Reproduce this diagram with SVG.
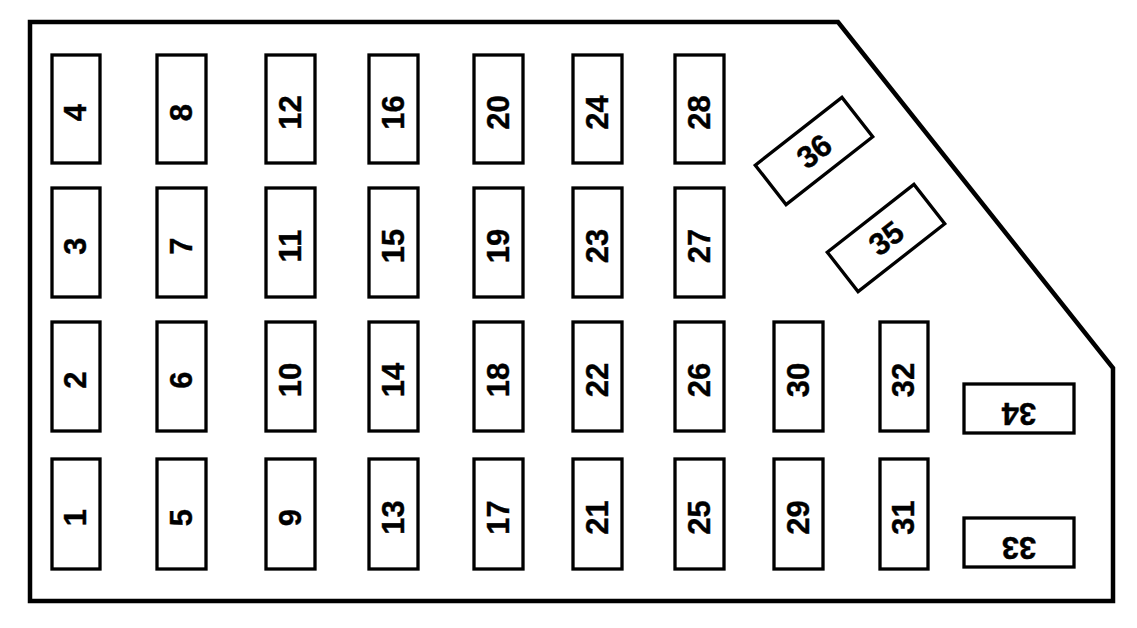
<svg xmlns="http://www.w3.org/2000/svg" width="1137" height="628" viewBox="0 0 1137 628">
<style>
.box{fill:#fff;stroke:#000;stroke-width:4.5;stroke-linejoin:miter}
.f{fill:#fff;stroke:#000;stroke-width:3.3}
.t{font-family:"Liberation Sans",Arial,sans-serif;font-weight:bold;font-size:31px;text-anchor:middle;fill:#000;stroke:#000;stroke-width:0.4}
</style>
<rect width="1137" height="628" fill="#fff"/>
<g id="panel"><path class="box" d="M30,22 H838 L1113,368 V601 H30 Z"/></g>
<g id="fuses">
<g id="f4"><rect class="f" x="52" y="55" width="48" height="108"/><text class="t" transform="translate(76,109) rotate(-90)" x="-3.5" y="10">4</text></g>
<g id="f3"><rect class="f" x="52" y="188" width="48" height="109"/><text class="t" transform="translate(76,242.5) rotate(-90)" x="-3.5" y="10">3</text></g>
<g id="f2"><rect class="f" x="52" y="322" width="48" height="109"/><text class="t" transform="translate(76,376.5) rotate(-90)" x="-3.5" y="10">2</text></g>
<g id="f1"><rect class="f" x="52" y="459" width="48" height="110"/><text class="t" transform="translate(76,514) rotate(-90)" x="-3.5" y="10">1</text></g>
<g id="f8"><rect class="f" x="157" y="55" width="49" height="108"/><text class="t" transform="translate(181.5,109) rotate(-90)" x="-3.5" y="10">8</text></g>
<g id="f7"><rect class="f" x="157" y="188" width="49" height="109"/><text class="t" transform="translate(181.5,242.5) rotate(-90)" x="-3.5" y="10">7</text></g>
<g id="f6"><rect class="f" x="157" y="322" width="49" height="109"/><text class="t" transform="translate(181.5,376.5) rotate(-90)" x="-3.5" y="10">6</text></g>
<g id="f5"><rect class="f" x="157" y="459" width="49" height="110"/><text class="t" transform="translate(181.5,514) rotate(-90)" x="-3.5" y="10">5</text></g>
<g id="f12"><rect class="f" x="266" y="55" width="49" height="108"/><text class="t" transform="translate(290.5,109) rotate(-90)" x="-3.5" y="10">12</text></g>
<g id="f11"><rect class="f" x="266" y="188" width="49" height="109"/><text class="t" transform="translate(290.5,242.5) rotate(-90)" x="-3.5" y="10">11</text></g>
<g id="f10"><rect class="f" x="266" y="322" width="49" height="109"/><text class="t" transform="translate(290.5,376.5) rotate(-90)" x="-3.5" y="10">10</text></g>
<g id="f9"><rect class="f" x="266" y="459" width="49" height="110"/><text class="t" transform="translate(290.5,514) rotate(-90)" x="-3.5" y="10">9</text></g>
<g id="f16"><rect class="f" x="369" y="55" width="49" height="108"/><text class="t" transform="translate(393.5,109) rotate(-90)" x="-3.5" y="10">16</text></g>
<g id="f15"><rect class="f" x="369" y="188" width="49" height="109"/><text class="t" transform="translate(393.5,242.5) rotate(-90)" x="-3.5" y="10">15</text></g>
<g id="f14"><rect class="f" x="369" y="322" width="49" height="109"/><text class="t" transform="translate(393.5,376.5) rotate(-90)" x="-3.5" y="10">14</text></g>
<g id="f13"><rect class="f" x="369" y="459" width="49" height="110"/><text class="t" transform="translate(393.5,514) rotate(-90)" x="-3.5" y="10">13</text></g>
<g id="f20"><rect class="f" x="474" y="55" width="49" height="108"/><text class="t" transform="translate(498.5,109) rotate(-90)" x="-3.5" y="10">20</text></g>
<g id="f19"><rect class="f" x="474" y="188" width="49" height="109"/><text class="t" transform="translate(498.5,242.5) rotate(-90)" x="-3.5" y="10">19</text></g>
<g id="f18"><rect class="f" x="474" y="322" width="49" height="109"/><text class="t" transform="translate(498.5,376.5) rotate(-90)" x="-3.5" y="10">18</text></g>
<g id="f17"><rect class="f" x="474" y="459" width="49" height="110"/><text class="t" transform="translate(498.5,514) rotate(-90)" x="-3.5" y="10">17</text></g>
<g id="f24"><rect class="f" x="573" y="55" width="49" height="108"/><text class="t" transform="translate(597.5,109) rotate(-90)" x="-3.5" y="10">24</text></g>
<g id="f23"><rect class="f" x="573" y="188" width="49" height="109"/><text class="t" transform="translate(597.5,242.5) rotate(-90)" x="-3.5" y="10">23</text></g>
<g id="f22"><rect class="f" x="573" y="322" width="49" height="109"/><text class="t" transform="translate(597.5,376.5) rotate(-90)" x="-3.5" y="10">22</text></g>
<g id="f21"><rect class="f" x="573" y="459" width="49" height="110"/><text class="t" transform="translate(597.5,514) rotate(-90)" x="-3.5" y="10">21</text></g>
<g id="f28"><rect class="f" x="675" y="55" width="49" height="108"/><text class="t" transform="translate(699.5,109) rotate(-90)" x="-3.5" y="10">28</text></g>
<g id="f27"><rect class="f" x="675" y="188" width="49" height="109"/><text class="t" transform="translate(699.5,242.5) rotate(-90)" x="-3.5" y="10">27</text></g>
<g id="f26"><rect class="f" x="675" y="322" width="49" height="109"/><text class="t" transform="translate(699.5,376.5) rotate(-90)" x="-3.5" y="10">26</text></g>
<g id="f25"><rect class="f" x="675" y="459" width="49" height="110"/><text class="t" transform="translate(699.5,514) rotate(-90)" x="-3.5" y="10">25</text></g>
<g id="f30"><rect class="f" x="774" y="322" width="49" height="109"/><text class="t" transform="translate(798.5,376.5) rotate(-90)" x="-3.5" y="10">30</text></g>
<g id="f29"><rect class="f" x="774" y="459" width="49" height="110"/><text class="t" transform="translate(798.5,514) rotate(-90)" x="-3.5" y="10">29</text></g>
<g id="f32"><rect class="f" x="880" y="322" width="48" height="109"/><text class="t" transform="translate(904,376.5) rotate(-90)" x="-3.5" y="10">32</text></g>
<g id="f31"><rect class="f" x="880" y="459" width="48" height="110"/><text class="t" transform="translate(904,514) rotate(-90)" x="-3.5" y="10">31</text></g>
<g id="f34"><rect class="f" x="964" y="384" width="110" height="49"/><text class="t" transform="translate(1019,408.5) rotate(180)" y="6">34</text></g>
<g id="f33"><rect class="f" x="964" y="518" width="110" height="49"/><text class="t" transform="translate(1019,542.5) rotate(180)" y="5.5">33</text></g>
<g id="f36" transform="translate(814,151) rotate(-38)"><rect class="f" x="-55" y="-25" width="110" height="50"/><text class="t" y="11">36</text></g>
<g id="f35" transform="translate(886,238) rotate(-38)"><rect class="f" x="-55" y="-25" width="110" height="50"/><text class="t" y="11">35</text></g>
</g>
<g id="connectors"/>
</svg>
